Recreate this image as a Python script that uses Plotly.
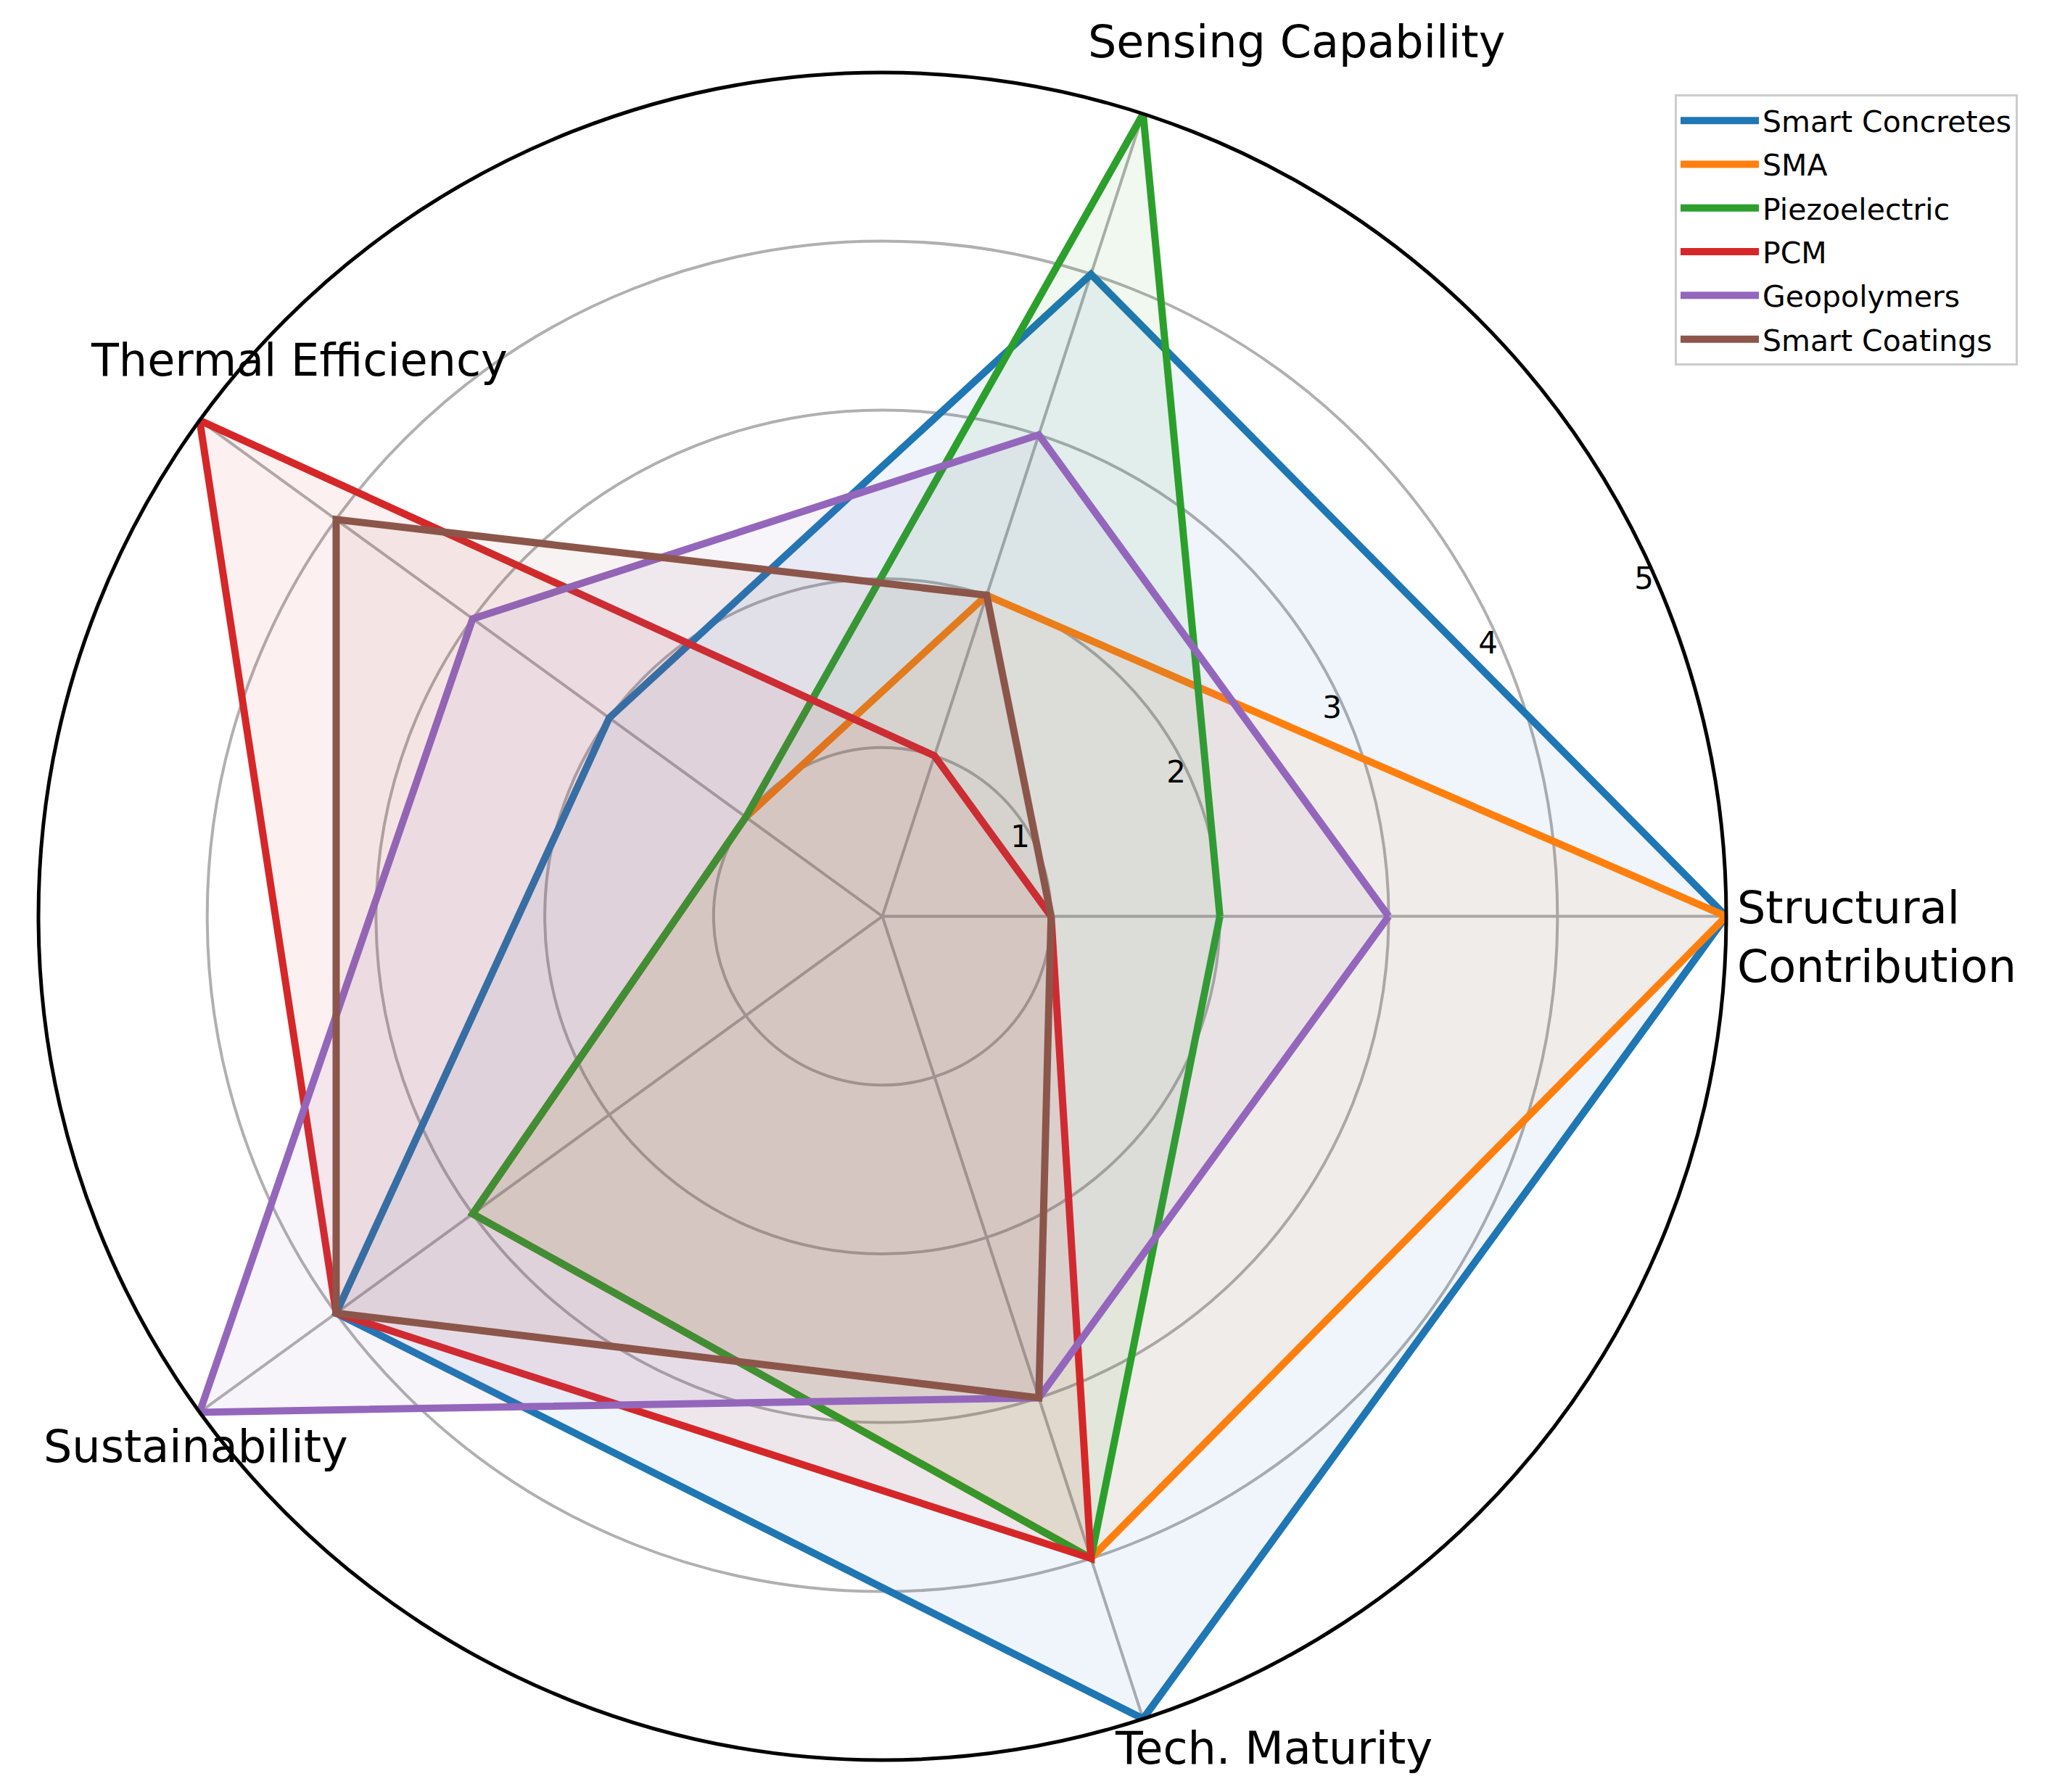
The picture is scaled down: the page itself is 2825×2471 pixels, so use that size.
import plotly.graph_objects as go

categories = ["Structural Contribution", "Sensing Capability", "Thermal Efficiency",
              "Sustainability", "Tech. Maturity"]
category_labels = ["Structural<br>Contribution", "Sensing Capability", "Thermal Efficiency",
                   "Sustainability", "Tech. Maturity"]
series_names = ["Smart Concretes", "SMA", "Piezoelectric", "PCM", "Geopolymers", "Smart Coatings"]
smart_concretes = [5, 4, 2, 4, 5]
sma = [5, 2, 1, 3, 4]
piezoelectric = [2, 5, 1, 3, 4]
pcm = [1, 1, 5, 4, 4]
geopolymers = [3, 3, 3, 5, 3]
smart_coatings = [1, 2, 4, 4, 3]
radial_ticks = [1, 2, 3, 4, 5]

series_values = [smart_concretes, sma, piezoelectric, pcm, geopolymers, smart_coatings]
colors = ["#1f77b4", "#ff7f0e", "#2ca02c", "#d62728", "#9467bd", "#8c564b"]

W, H = 2825, 2471
FONT = "DejaVu Sans"


def rgba(hexc, a):
    h = hexc.lstrip("#")
    return "rgba(%d,%d,%d,%s)" % (int(h[0:2], 16), int(h[2:4], 16), int(h[4:6], 16), a)


fig = go.Figure()
for name, vals, col in zip(series_names, series_values, colors):
    theta = categories + [categories[0]]
    r = vals + [vals[0]]
    fig.add_trace(go.Scatterpolar(
        r=r, theta=theta, mode="lines", name=name, legendgroup=name,
        line=dict(color=col, width=10), showlegend=True))
    fig.add_trace(go.Scatterpolar(
        r=r, theta=theta, mode="lines", name=name, legendgroup=name,
        fill="toself", fillcolor=rgba(col, 0.07), line=dict(width=0, color=rgba(col, 0)),
        showlegend=False, hoverinfo="skip"))

# label positions (pixel centers) for the angular category labels
label_pos = [(2385, 1284, "left"), (1779, 50, "center"), (404, 488, "center"),
             (262, 1986, "center"), (1748, 2402, "center")]
annotations = []
for txt, (px, py, anc) in zip(category_labels, label_pos):
    annotations.append(dict(
        text=txt, x=px / W, y=1 - py / H, xref="paper", yref="paper",
        xanchor=anc, yanchor="middle", align="left", showarrow=False,
        font=dict(family=FONT, size=62, color="black")))

fig.update_layout(
    width=W, height=H,
    margin=dict(l=0, r=0, t=0, b=0),
    paper_bgcolor="white",
    font=dict(family=FONT, color="black"),
    polar=dict(
        domain=dict(x=[45 / W, 2372 / W], y=[1 - 2419 / H, 1 - 92 / H]),
        bgcolor="white",
        angularaxis=dict(
            rotation=0, direction="counterclockwise",
            categoryorder="array", categoryarray=categories,
            showticklabels=False, ticks="",
            showgrid=True, gridcolor="#b0b0b0", gridwidth=4,
            showline=True, linecolor="black", linewidth=5),
        radialaxis=dict(
            range=[0, 5], tickvals=radial_ticks, ticktext=[str(t) for t in radial_ticks],
            angle=22.5, tickangle=22.5, side="counterclockwise",
            showline=False, ticks="",
            showgrid=True, gridcolor="#b0b0b0", gridwidth=4,
            tickfont=dict(family=FONT, size=42, color="black")),
    ),
    legend=dict(
        x=2301 / W, y=1 - 122 / H, xanchor="left", yanchor="top",
        bgcolor="white", bordercolor="#cccccc", borderwidth=3,
        font=dict(family=FONT, size=41, color="black"),
        tracegroupgap=4, itemwidth=108),
    annotations=annotations,
)

fig.write_html("out.html")
